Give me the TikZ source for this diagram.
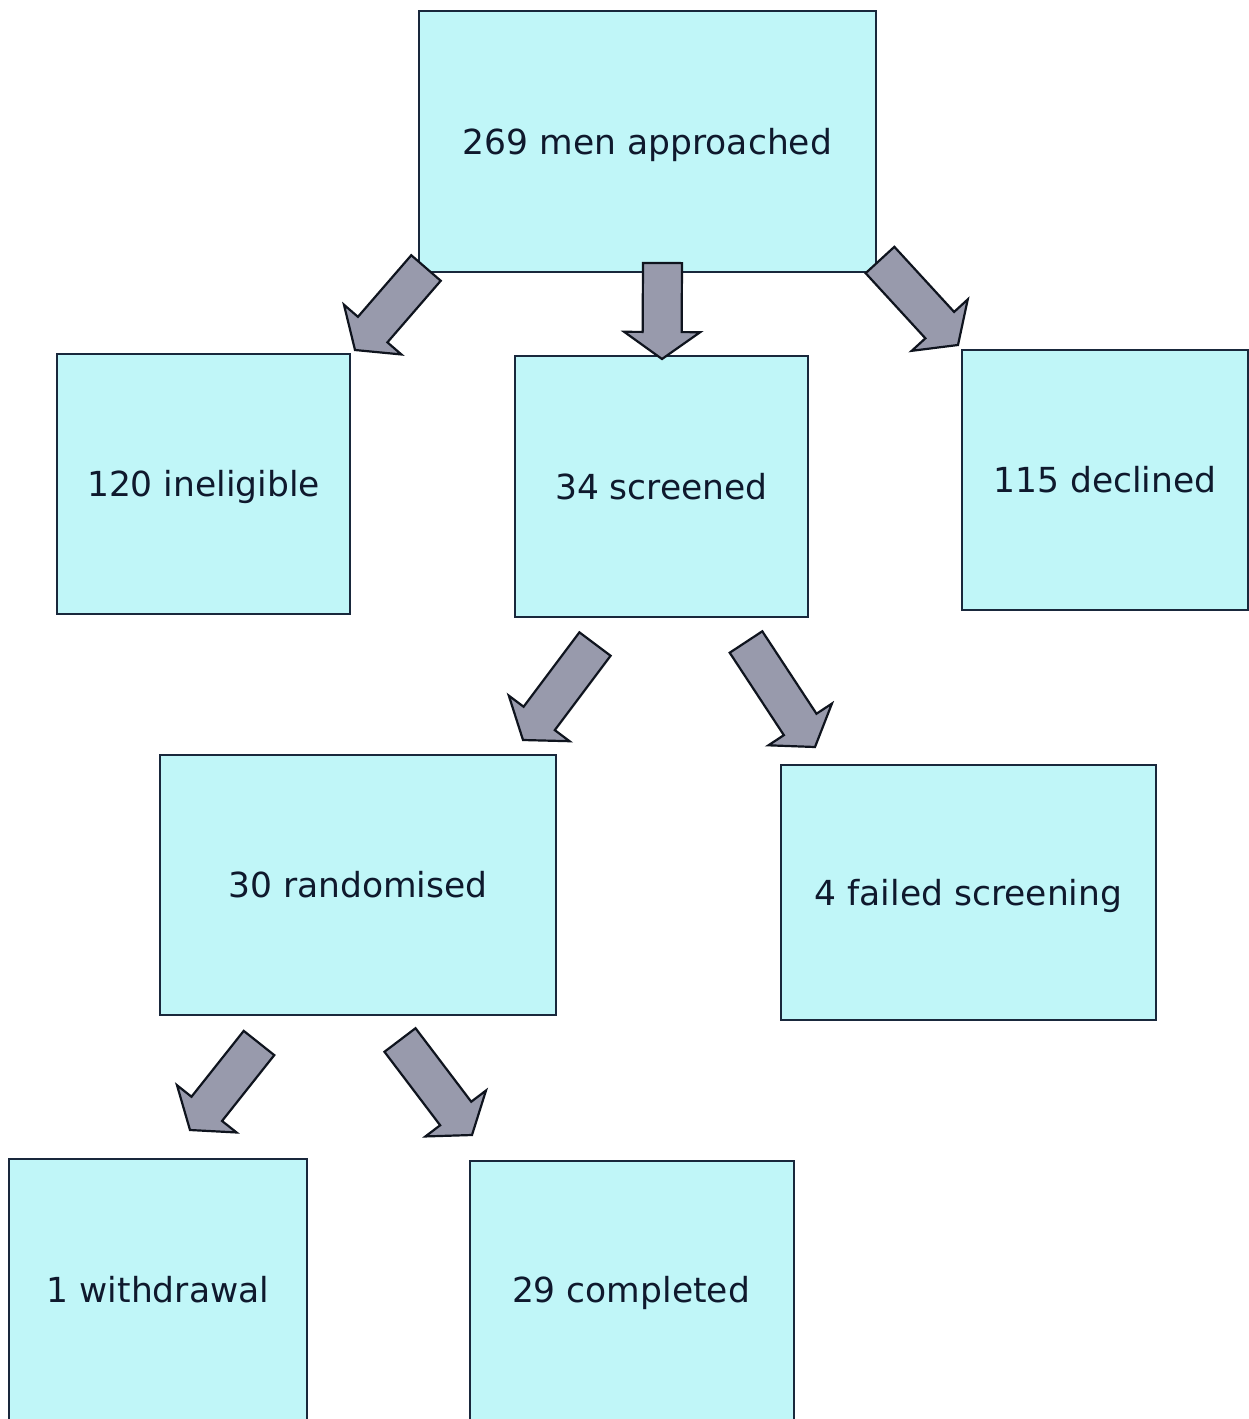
\documentclass[tikz,border=0pt]{standalone}
\usepackage{fontspec}
\setmainfont{DejaVu Sans}
\usetikzlibrary{calc}
\definecolor{boxfill}{RGB}{192,246,248}
\definecolor{boxline}{RGB}{25,40,60}
\definecolor{txtcol}{RGB}{15,25,45}
\definecolor{arrfill}{RGB}{152,154,172}
\definecolor{arrline}{RGB}{15,20,30}
\tikzset{
  lbl/.style={text=txtcol, font=\fontsize{34.5}{40}\selectfont, text height=25pt, text depth=0pt},
  box/.style={draw=boxline, fill=boxfill, line width=2pt, inner sep=0pt,
    anchor=center, lbl},
  barrow/.style={draw=arrline, fill=arrfill, line width=2.2pt, line join=miter}
}
\newcommand\blockarrow[2]{%
  \coordinate (#1#2h) at ($(#2)!27pt!(#1)$);
  \draw[barrow] ($(#1)!19.5pt!90:(#2)$) -- ($(#1#2h)!19.5pt!90:(#2)$) --
    ($(#1#2h)!38pt!90:(#2)$) -- (#2) -- ($(#1#2h)!38pt!-90:(#2)$) --
    ($(#1#2h)!19.5pt!-90:(#2)$) -- ($(#1)!19.5pt!-90:(#2)$) -- cycle;}
\begin{document}
\begin{tikzpicture}[x=1pt,y=-1pt]
\useasboundingbox (0,0) rectangle (1249,1419);
\clip (0,0) rectangle (1249,1419);
\fill[white] (0,0) rectangle (1249,1419);
% boxes
\node[box, minimum width=457pt, minimum height=261pt] (top) at (647.5,141.5) {269 men approached};
\node[box, minimum width=293pt, minimum height=260pt] (inel) at (203.5,484) {120 ineligible};
\node[box, minimum width=293pt, minimum height=261pt] (scr) at (661.5,486.5) {34 screened};
\node[box, minimum width=286pt, minimum height=260pt] (decl) at (1105,480) {115 declined};
\node[box, minimum width=396pt, minimum height=260pt] (rand) at (358,885) {30 randomised};
\node[box, minimum width=375pt, minimum height=255pt] (fail) at (968.5,892.5) {4 failed screening};
\node[box, minimum width=298pt, minimum height=266pt] (with) at (158,1292) {};
\node[lbl] (withtxt) at (158,1290) {1 withdrawal};
\node[box, minimum width=324pt, minimum height=264pt] (comp) at (632,1293) {};
\node[lbl] (comptxt) at (631,1290) {29 completed};
% arrow end points
\coordinate (ta) at (426,268);  \coordinate (pa) at (355,350);
\coordinate (tb) at (662.5,263); \coordinate (pb) at (662,359);
\coordinate (tc) at (880,260);  \coordinate (pc) at (958,345);
\coordinate (td) at (595,644);  \coordinate (pd) at (523,740);
\coordinate (te) at (746,642);  \coordinate (pe) at (815,747);
\coordinate (tf) at (259,1043); \coordinate (pf) at (190,1130);
\coordinate (tg) at (400,1040); \coordinate (pg) at (472,1135);
\blockarrow{ta}{pa}
\blockarrow{tb}{pb}
\blockarrow{tc}{pc}
\blockarrow{td}{pd}
\blockarrow{te}{pe}
\blockarrow{tf}{pf}
\blockarrow{tg}{pg}
\end{tikzpicture}
\end{document}
